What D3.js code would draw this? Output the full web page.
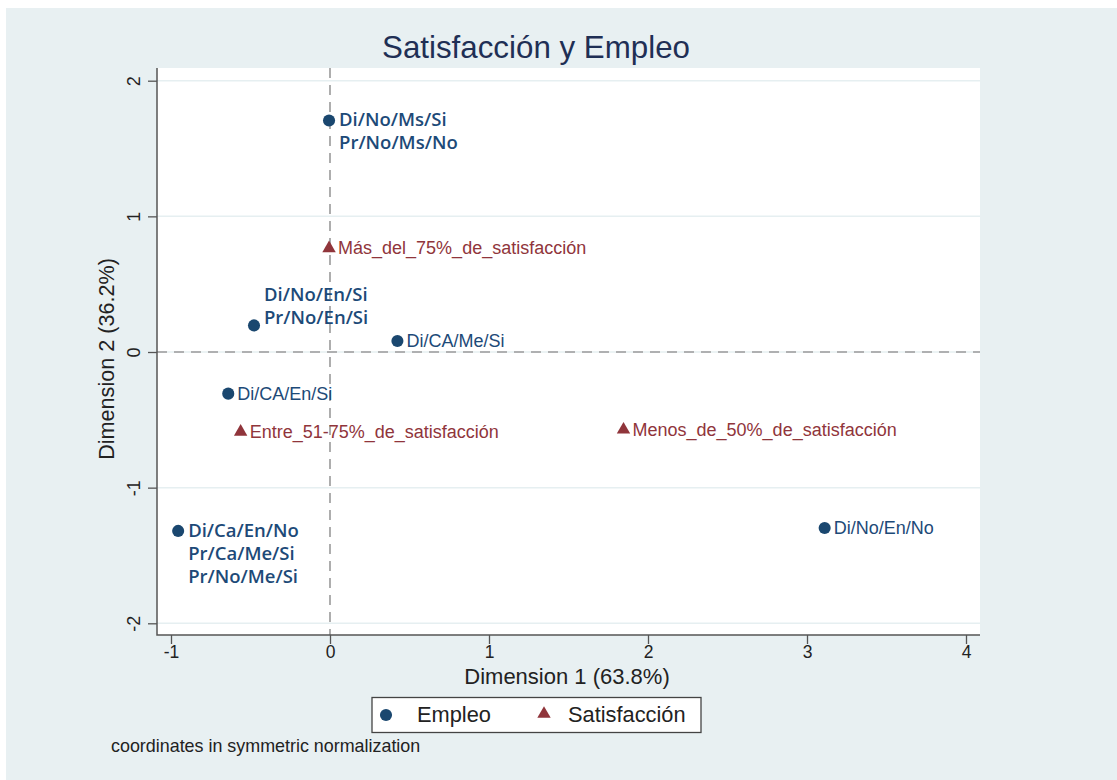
<!DOCTYPE html>
<html>
<head>
<meta charset="utf-8">
<script src="https://cdn.jsdelivr.net/npm/d3@7"></script>
<style>
body { margin: 0; background: #fff; }
</style>
</head>
<body>
<div id="display-container"></div>
<script>
// coordinates
var empleoLabels = [
    ["Di/No/Ms/Si", "Pr/No/Ms/No"],
    ["Di/No/En/Si", "Pr/No/En/Si"],
    ["Di/CA/Me/Si"],
    ["Di/CA/En/Si"],
    ["Di/Ca/En/No", "Pr/Ca/Me/Si", "Pr/No/Me/Si"],
    ["Di/No/En/No"]
];
var empleoX = [-0.006, -0.478, 0.424, -0.640, -0.955, 3.111];
var empleoY = [1.707, 0.196, 0.081, -0.307, -1.319, -1.297];

var satisLabels = ["Más_del_75%_de_satisfacción", "Entre_51-75%_de_satisfacción", "Menos_de_50%_de_satisfacción"];
var satisX = [-0.006, -0.562, 1.846];
var satisY = [0.764, -0.588, -0.573];

var xTicks = [-1, 0, 1, 2, 3, 4];
var yTicks = [-2, -1, 0, 1, 2];

var titleText = "Satisfacción y Empleo";
var xTitle = "Dimension 1 (63.8%)";
var yTitle = "Dimension 2 (36.2%)";
var legendNames = ["Empleo", "Satisfacción"];
var noteText = "coordinates in symmetric normalization";

var blue = "#1a476f";
var red = "#90353b";
var bg = "#e8f0f2";
var arial = "'Liberation Sans', Arial, sans-serif";

var width = 1117;
var height = 780;
var plot = {left: 157, right: 980, top: 68, bottom: 635};

var svg = d3.select("#display-container").append("svg")
    .attr("width", width)
    .attr("height", height)
    .attr("font-family", arial);

svg.append("rect").attr("x", 6).attr("y", 8)
    .attr("width", width - 6).attr("height", height - 8)
    .attr("fill", bg);

svg.append("rect")
    .attr("x", plot.left).attr("y", plot.top)
    .attr("width", plot.right - plot.left).attr("height", plot.bottom - plot.top)
    .attr("fill", "#fff");

var x = d3.scaleLinear().domain([-1, 4]).range([171, 966]);
var y = d3.scaleLinear().domain([-2, 2]).range([623.3, 80.7]);

// grid
svg.append("g").selectAll("line")
    .data(yTicks)
    .enter().append("line")
    .attr("x1", plot.left).attr("x2", plot.right)
    .attr("y1", function(d){ return y(d); })
    .attr("y2", function(d){ return y(d); })
    .attr("stroke", "#e6eff1")
    .attr("stroke-width", 1.5);

// reference lines at zero
svg.append("line")
    .attr("x1", x(0)).attr("x2", x(0))
    .attr("y1", plot.top).attr("y2", plot.bottom)
    .attr("stroke", "#9a9a9a").attr("stroke-width", 1.6)
    .attr("stroke-dasharray", "10,7");
svg.append("line")
    .attr("x1", plot.left).attr("x2", plot.right)
    .attr("y1", y(0)).attr("y2", y(0))
    .attr("stroke", "#9a9a9a").attr("stroke-width", 1.6)
    .attr("stroke-dasharray", "10,7");

// axes
var xAxis = svg.append("g")
    .attr("transform", "translate(0," + plot.bottom + ")")
    .call(d3.axisBottom(x).tickValues(xTicks).tickSize(9).tickPadding(2)
        .tickFormat(function(d){ return String(d); }));
xAxis.select(".domain").remove();
xAxis.selectAll("line").attr("stroke", "#555").attr("stroke-width", 1.3);
xAxis.selectAll("text").attr("font-size", 17.5).attr("fill", "#222")
    .attr("font-family", arial);

var yAxis = svg.append("g")
    .attr("transform", "translate(" + plot.left + ",0)")
    .call(d3.axisLeft(y).tickValues(yTicks).tickSize(9)
        .tickFormat(function(d){ return String(d); }));
yAxis.select(".domain").remove();
yAxis.selectAll("line").attr("stroke", "#555").attr("stroke-width", 1.3);
yAxis.selectAll("text")
    .attr("font-size", 18).attr("fill", "#222")
    .attr("font-family", arial)
    .attr("text-anchor", "middle")
    .attr("transform", "rotate(-90)")
    .attr("x", 0).attr("y", -17).attr("dy", 0);

svg.append("path")
    .attr("d", "M" + plot.left + "," + plot.top + "V" + plot.bottom + "H" + plot.right)
    .attr("fill", "none").attr("stroke", "#555").attr("stroke-width", 1.5);

// titles
svg.append("text").attr("x", 536).attr("y", 58)
    .attr("text-anchor", "middle").attr("font-size", 31.3).attr("fill", "#1f2f55")
    .text(titleText);
svg.append("text").attr("x", 567).attr("y", 684)
    .attr("text-anchor", "middle").attr("font-size", 22).attr("fill", "#222")
    .text(xTitle);
svg.append("text")
    .attr("transform", "translate(114,359) rotate(-90)")
    .attr("text-anchor", "middle").attr("font-size", 21.6).attr("fill", "#222")
    .text(yTitle);

// empleo points
var circle = d3.symbol().type(d3.symbolCircle).size(115);
var tri = d3.symbol().type(d3.symbolTriangle).size(78);

// labels that sit above their marker (first line offset, px)
var liftLabel = {1: -30};

var emp = svg.append("g").selectAll("g")
    .data(empleoX.map(function(v, i){ return {x: v, y: empleoY[i], lines: empleoLabels[i], i: i}; }))
    .enter().append("g")
    .attr("transform", function(d){ return "translate(" + x(d.x) + "," + y(d.y) + ")"; });
emp.append("path").attr("d", circle).attr("fill", blue);
emp.each(function(d){
    var g = d3.select(this);
    var multi = d.lines.length > 1;
    var lh = 23;
    var off = liftLabel[d.i] || 0;
    var t = g.append("text")
        .attr("y", off + 6)
        .attr("fill", "#1d4a78")
        .attr("font-size", multi ? 18.5 : 18)
        .attr("font-weight", multi ? 600 : 400)
        .attr("font-family", multi ? "'Open Sans', Lato, sans-serif" : arial);
    d.lines.forEach(function(s, k){
        t.append("tspan").attr("x", multi ? 10 : 9).attr("dy", k ? lh : 0).text(s);
    });
});

// satisfaccion points
var sat = svg.append("g").selectAll("g")
    .data(satisX.map(function(v, i){ return {x: v, y: satisY[i], label: satisLabels[i]}; }))
    .enter().append("g")
    .attr("transform", function(d){ return "translate(" + x(d.x) + "," + y(d.y) + ")"; });
sat.append("path").attr("d", tri).attr("fill", red);
sat.append("text")
    .attr("x", 9).attr("y", 6)
    .attr("fill", red).attr("font-size", 18)
    .text(function(d){ return d.label; });

// legend
var lg = svg.append("g");
lg.append("rect").attr("x", 372).attr("y", 697.5).attr("width", 329).attr("height", 35)
    .attr("fill", "#fff").attr("stroke", "#444").attr("stroke-width", 1.3);
lg.append("path").attr("d", circle).attr("fill", blue)
    .attr("transform", "translate(386,715)");
lg.append("text").attr("x", 417).attr("y", 722).attr("font-size", 21.8).attr("fill", "#222")
    .text(legendNames[0]);
lg.append("path").attr("d", tri).attr("fill", red)
    .attr("transform", "translate(544,714)");
lg.append("text").attr("x", 568).attr("y", 722).attr("font-size", 21.8).attr("fill", "#222")
    .text(legendNames[1]);

svg.append("text").attr("x", 111).attr("y", 752)
    .attr("font-size", 17.9).attr("fill", "#222")
    .text(noteText);
</script>
</body>
</html>
